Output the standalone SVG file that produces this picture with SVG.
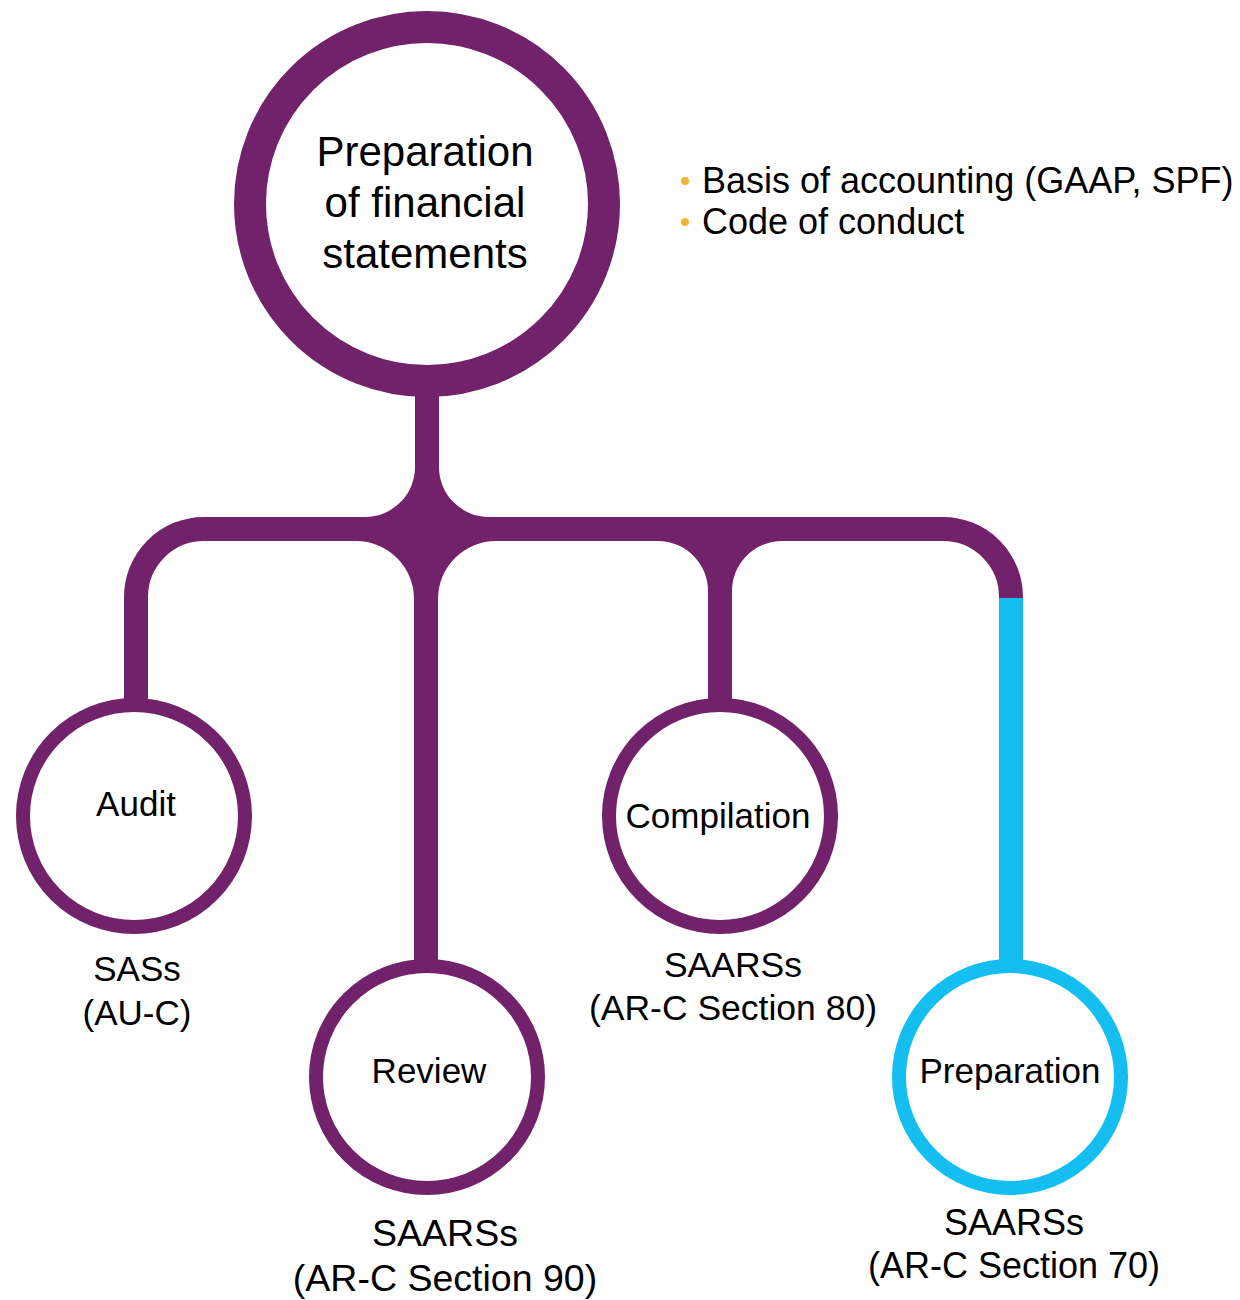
<svg xmlns="http://www.w3.org/2000/svg" width="1240" height="1300" viewBox="0 0 1240 1300">
<style>
.t{font-family:"Liberation Sans",Arial,sans-serif;fill:#000;text-anchor:middle}
.big{font-size:42px}
.m{font-size:35px}
.b{font-size:36px;text-anchor:start}
.ring{fill:#fff;stroke:#72216B}
.cy{fill:#fff;stroke:#15BEF0}
.ln{fill:none;stroke:#72216B;stroke-width:24}
.f{fill:#72216B}
</style>
<rect width="1240" height="1300" fill="#fff"/>
<g id="connectors">
<line class="ln" x1="427" y1="390" x2="427" y2="530"/>
<path class="ln" d="M136 705 L136 597 A68 68 0 0 1 204 529 L943 529 A68 68 0 0 1 1011 597 L1011 599"/>
<line class="ln" x1="426" y1="529" x2="426" y2="965"/>
<line class="ln" x1="720" y1="529" x2="720" y2="705"/>
<line x1="1011" y1="598" x2="1011" y2="965" stroke="#15BEF0" stroke-width="24"/>
<path class="f" d="M415 467 L415 517 L365 517 A50 50 0 0 0 415 467 Z"/>
<path class="f" d="M439 467 L439 517 L489 517 A50 50 0 0 1 439 467 Z"/>
<path class="f" d="M414 599 L414 541 L356 541 A58 58 0 0 1 414 599 Z"/>
<path class="f" d="M438 599 L438 541 L496 541 A58 58 0 0 0 438 599 Z"/>
<path class="f" d="M708 591 L708 541 L658 541 A50 50 0 0 1 708 591 Z"/>
<path class="f" d="M732 591 L732 541 L782 541 A50 50 0 0 0 732 591 Z"/>
</g>
<g id="root">
<circle class="ring" cx="427" cy="204" r="177" stroke-width="32"/>
<text class="t big" x="425" y="166">Preparation</text>
<text class="t big" x="425" y="217">of financial</text>
<text class="t big" x="425" y="268">statements</text>
</g>
<g id="notes">
<circle cx="685" cy="181" r="4" fill="#F5B335"/>
<circle cx="685" cy="222" r="4" fill="#F5B335"/>
<text class="t b" x="702" y="193">Basis of accounting (GAAP, SPF)</text>
<text class="t b" x="702" y="234">Code of conduct</text>
</g>
<g id="audit">
<circle class="ring" cx="134" cy="816" r="111" stroke-width="14"/>
<text class="t m" x="136" y="816">Audit</text>
<text class="t m" x="137" y="981">SASs</text>
<text class="t m" x="137" y="1025">(AU-C)</text>
</g>
<g id="review">
<circle class="ring" cx="427" cy="1077" r="111" stroke-width="14"/>
<text class="t m" x="429" y="1083">Review</text>
<text class="t m" x="445" y="1246" style="font-size:37.5px">SAARSs</text>
<text class="t m" x="445" y="1291" style="font-size:37.5px">(AR-C Section 90)</text>
</g>
<g id="compilation">
<circle class="ring" cx="720" cy="816" r="111" stroke-width="14"/>
<text class="t m" x="718" y="828">Compilation</text>
<text class="t m" x="733" y="977" style="font-size:35.5px">SAARSs</text>
<text class="t m" x="733" y="1020" style="font-size:35.5px">(AR-C Section 80)</text>
</g>
<g id="preparation">
<circle class="cy" cx="1010" cy="1077" r="111" stroke-width="14"/>
<text class="t m" x="1010" y="1083">Preparation</text>
<text class="t m" x="1014" y="1235" style="font-size:36px">SAARSs</text>
<text class="t m" x="1014" y="1278" style="font-size:36px">(AR-C Section 70)</text>
</g>
</svg>
